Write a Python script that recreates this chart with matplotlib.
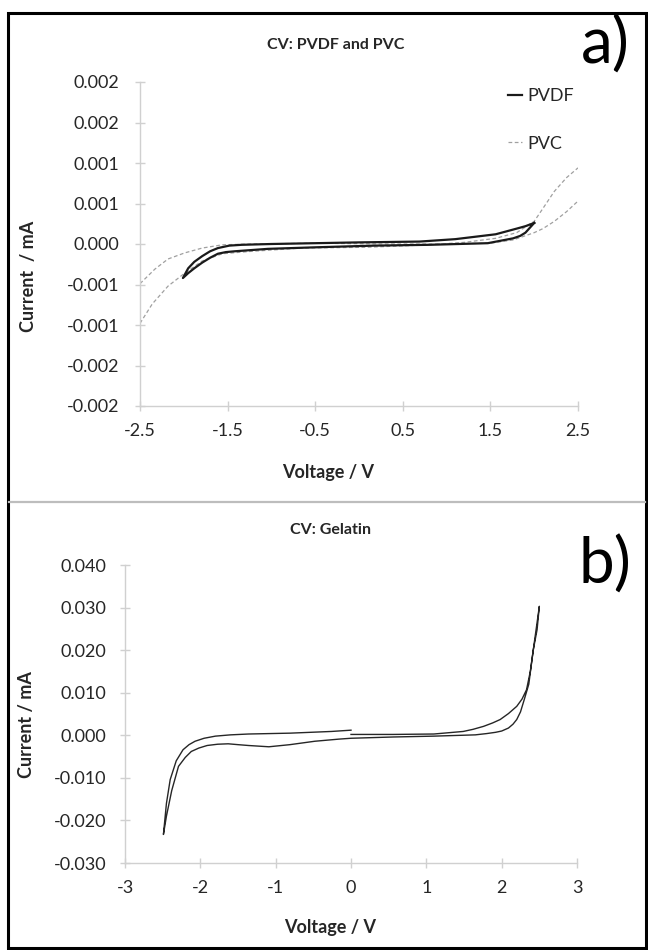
import numpy as np
import matplotlib
matplotlib.use("Agg")
import matplotlib.pyplot as plt
from matplotlib.patches import Rectangle
from matplotlib.lines import Line2D

plt.rcParams['font.family'] = ['Lato', 'DejaVu Sans']
plt.rcParams['axes.unicode_minus'] = False

# ---- panel a: PVDF and PVC (V, mA) ----
pvc_v_a = [-2.5, -2.36, -2.18, -1.99, -1.79, -1.56, -1.22, -0.65, 0.10, 0.8, 1.2, 1.56, 1.80,
           1.9, 2.0, 2.1, 2.23, 2.37, 2.5]
pvc_i_a = [-0.00098, -0.00074, -0.00052, -0.00036, -0.00021, -0.00012, -0.00009, -0.00005,
           -0.00004, -0.00001, 0.00002, 0.00007, 0.00014, 0.00021, 0.00028, 0.00044, 0.00065,
           0.00082, 0.00094]
pvc_v_b = [-2.5, -2.33, -2.18, -1.99, -1.79, -1.56, -1.22, -0.5, 0.3, 1.0, 1.5, 1.76, 2.0,
           2.1, 2.23, 2.37, 2.5]
pvc_i_b = [-0.00049, -0.00031, -0.000185, -0.00011, -0.00005, -0.00001, 0.0, 0.00001, 0.0,
           0.0, 0.00001, 0.00005, 0.00014, 0.00019, 0.00028, 0.0004, 0.00053]

pvdf_v = [2.0, 1.9, 1.80, 1.56, 1.10, 0.69, 0.0, -0.5, -1.0, -1.34, -1.48, -1.61, -1.7, -1.79,
          -1.88, -1.95, -2.01,
          -1.95, -1.88, -1.79, -1.7, -1.61, -1.52, -1.42, -1.04, -0.47, 0.18, 0.8, 1.47, 1.76,
          1.84, 1.90, 1.95, 2.0]
pvdf_i = [0.00026, 0.00022, 0.00019, 0.00012, 0.00006, 0.00003, 0.00002, 0.00001, 0.0,
          -0.00001, -0.00002, -0.00005, -0.00009, -0.00015, -0.00022, -0.00030, -0.00042,
          -0.00036, -0.0003, -0.00023, -0.00017, -0.00012, -0.0001, -0.00009, -0.00006,
          -0.00004, -0.00002, -0.00001, 0.00001, 0.00007, 0.0001, 0.00014, 0.0002, 0.00026]

ticks_a = [-0.002, -0.0015, -0.001, -0.0005, 0.0, 0.0005, 0.001, 0.0015, 0.002]
ticklabels_a = ['-0.002', '-0.002', '-0.001', '-0.001', '0.000', '0.001', '0.001', '0.002', '0.002']
xticks_a = [-2.5, -1.5, -0.5, 0.5, 1.5, 2.5]

# ---- panel b: Gelatin ----
gel_v = [0.0, 0.56, 1.10, 1.49, 1.62, 1.76, 1.88, 1.98, 2.09, 2.20, 2.27, 2.33, 2.38, 2.42,
         2.47, 2.50,
         2.42, 2.36, 2.30, 2.25, 2.20, 2.15, 2.09, 2.0, 1.92, 1.8, 1.65, 1.10, 0.56, 0.0,
         -0.16, -0.48, -0.81, -1.09, -1.36, -1.5, -1.63, -1.77, -1.91, -2.02, -2.12, -2.2,
         -2.29, -2.38, -2.45, -2.49,
         -2.45, -2.40, -2.32, -2.23, -2.15, -2.07, -1.95, -1.80, -1.6, -1.36, -0.81, -0.26, 0.0]
gel_i = [0.0002, 0.0002, 0.0003, 0.0009, 0.0014, 0.0021, 0.0029, 0.0037, 0.0051, 0.0068,
         0.0085, 0.0107, 0.015, 0.0201, 0.0248, 0.0303,
         0.0201, 0.012, 0.0084, 0.0055, 0.0037, 0.0026, 0.0017, 0.0010, 0.0007, 0.0004, 0.0001,
         -0.0002, -0.0004, -0.0007,
         -0.0009, -0.0014, -0.0022, -0.0027, -0.0024, -0.0022, -0.0020, -0.0021, -0.0024,
         -0.003, -0.0038, -0.0052, -0.0073, -0.013, -0.019, -0.0233,
         -0.016, -0.0104, -0.006, -0.0034, -0.0022, -0.0014, -0.0007, -0.0002, 0.0001, 0.0003,
         0.0005, 0.0009, 0.0012]

ticks_b = [-0.03, -0.02, -0.01, 0.0, 0.01, 0.02, 0.03, 0.04]
ticklabels_b = ['-0.030', '-0.020', '-0.010', '0.000', '0.010', '0.020', '0.030', '0.040']
xticks_b = [-3, -2, -1, 0, 1, 2, 3]

W, H = 648, 950
fig = plt.figure(figsize=(W / 100, H / 100), dpi=100)

def fx(px):
    return px / W

def fy(py):
    return 1 - py / H

txt = '#262626'
axc = '#d0d0d0'

def style(ax, xpad, ypad):
    for s in ['top', 'right']:
        ax.spines[s].set_visible(False)
    for s in ['left', 'bottom']:
        ax.spines[s].set_color(axc)
        ax.spines[s].set_linewidth(1.0)
    ax.tick_params(axis='both', direction='inout', length=7, width=1.0, color=axc,
                   labelsize=13, labelcolor=txt)
    ax.tick_params(axis='x', pad=xpad)
    ax.tick_params(axis='y', pad=ypad)

# panel a
ax1 = fig.add_axes([fx(140), fy(406), fx(578 - 140), (406 - 82) / H])
ax1.plot(pvc_v_a, pvc_i_a, color='#a0a0a0', lw=0.9, ls=(0, (3, 2)))
ax1.plot(pvc_v_b, pvc_i_b, color='#a0a0a0', lw=0.9, ls=(0, (3, 2)), label='PVC')
ax1.plot(pvdf_v, pvdf_i, color='#1a1a1a', lw=1.6, label='PVDF')
ax1.set_xlim(-2.5, 2.5)
ax1.set_ylim(-0.002, 0.002)
ax1.set_xticks(xticks_a)
ax1.set_yticks(ticks_a)
ax1.set_yticklabels(ticklabels_a)
style(ax1, 9, 11.5)
ax1.set_ylabel('Current  / mA', fontsize=13, fontweight='bold', color=txt)
ax1.yaxis.set_label_coords((37 - 140) / 438, 0.40)
fig.text(fx(328), fy(472), 'Voltage / V', fontsize=13, fontweight='bold', color=txt,
         ha='center', va='center')
fig.text(fx(336), fy(45), 'CV: PVDF and PVC', fontsize=11.5, fontweight='bold', color=txt,
         ha='center', va='center')
fig.text(fx(605), fy(45), 'a)', fontsize=46, color='black', ha='center', va='center')

handles = [Line2D([], [], color='#1a1a1a', lw=1.6),
           Line2D([], [], color='#a0a0a0', lw=0.9, ls=(0, (3, 2)))]
fig.legend(handles, ['PVDF', 'PVC'], loc='upper left', bbox_to_anchor=(fx(508), fy(88)),
           bbox_transform=fig.transFigure, frameon=False, fontsize=13, handlelength=0.8,
           handletextpad=0.25, labelspacing=1.75, borderpad=0, borderaxespad=0,
           labelcolor=txt)

# panel b
ax2 = fig.add_axes([fx(125), fy(863), fx(577 - 125), (863 - 565) / H])
ax2.plot(gel_v, gel_i, color='#262626', lw=1.0)
ax2.set_xlim(-3, 3)
ax2.set_ylim(-0.03, 0.04)
ax2.set_xticks(xticks_b)
ax2.set_yticks(ticks_b)
ax2.set_yticklabels(ticklabels_b)
style(ax2, 9, 10)
ax2.set_ylabel('Current / mA', fontsize=13, fontweight='bold', color=txt)
ax2.yaxis.set_label_coords((35 - 125) / 452, 0.463)
fig.text(fx(330), fy(928), 'Voltage / V', fontsize=13, fontweight='bold', color=txt,
         ha='center', va='center')
fig.text(fx(330), fy(530), 'CV: Gelatin', fontsize=11.5, fontweight='bold', color=txt,
         ha='center', va='center')
fig.text(fx(605), fy(565), 'b)', fontsize=46, color='black', ha='center', va='center')

# frame and separator
fig.add_artist(Rectangle((fx(8), fy(948)), fx(646 - 8), (948 - 13) / H, transform=fig.transFigure,
                         fill=False, edgecolor='black', lw=2.2))
fig.add_artist(Line2D([fx(9), fx(645)], [fy(502), fy(502)], transform=fig.transFigure,
                      color='#bdbdbd', lw=1.6))

fig.savefig('out.png', dpi=100)
